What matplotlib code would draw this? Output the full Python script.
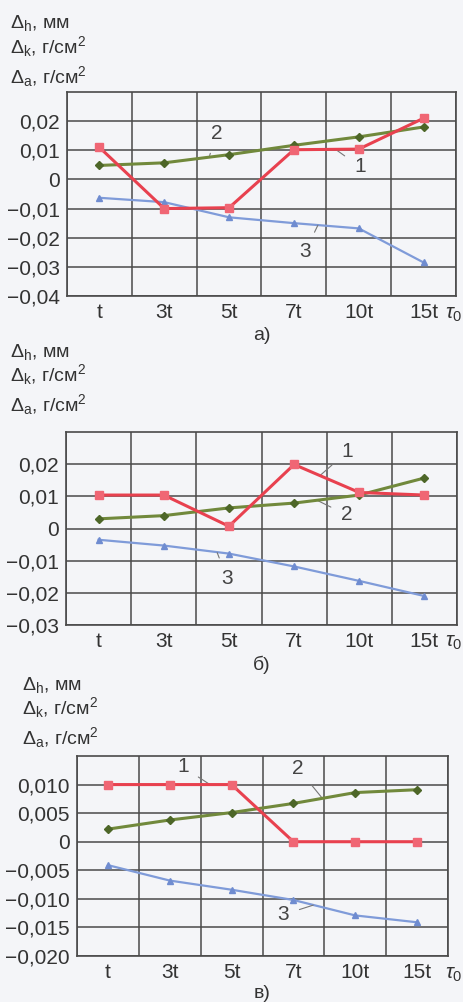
import numpy as np
import matplotlib
matplotlib.use('Agg')
import matplotlib.pyplot as plt
from matplotlib.ticker import FuncFormatter

plt.rcParams['font.family'] = ['Liberation Sans', 'DejaVu Sans']
plt.rcParams['mathtext.fontset'] = 'custom'
plt.rcParams['mathtext.rm'] = 'Liberation Sans'
plt.rcParams['mathtext.it'] = 'Liberation Sans:italic'

x_labels = ['t', '3t', '5t', '7t', '10t', '15t']

# panel a)
a_s1 = [0.011, -0.010, -0.0097, 0.0102, 0.0104, 0.021]
a_s2 = [0.0048, 0.0057, 0.0085, 0.0117, 0.0146, 0.018]
a_s3 = [-0.0063, -0.0078, -0.013, -0.015, -0.0168, -0.0285]
a_yticks = [-0.04, -0.03, -0.02, -0.01, 0, 0.01, 0.02]

# panel б)
b_s1 = [0.0104, 0.0104, 0.0007, 0.0199, 0.0112, 0.0104]
b_s2 = [0.003, 0.004, 0.0064, 0.0079, 0.0104, 0.0157]
b_s3 = [-0.0035, -0.0053, -0.0078, -0.0118, -0.0163, -0.021]
b_yticks = [-0.03, -0.02, -0.01, 0, 0.01, 0.02]

# panel в)
c_s1 = [0.010, 0.010, 0.010, 0.0, 0.0, 0.0]
c_s2 = [0.0022, 0.0038, 0.0051, 0.0067, 0.0086, 0.0091]
c_s3 = [-0.0041, -0.0068, -0.0084, -0.0102, -0.0129, -0.0141]
c_yticks = [-0.020, -0.015, -0.010, -0.005, 0, 0.005, 0.010]

bg = '#f4f5f8'
red = '#e8414f'
green = '#71893c'
blue = '#7f9bd9'
grid_c = '#4a4a4a'

W, H = 463, 1002
fig = plt.figure(figsize=(W / 100, H / 100), dpi=100, facecolor=bg)


def px_axes(l, t, r, b):
    return fig.add_axes([l / W, 1 - b / H, (r - l) / W, (b - t) / H])


def fmt(dec):
    def f(v, pos):
        if abs(v) < 1e-12:
            return '0'
        s = f'{abs(v):.{dec}f}'.replace('.', ',')
        return ('\u2212' if v < 0 else '') + s
    return FuncFormatter(f)


def panel(box, s1, s2, s3, yticks, ylim, dec, notes, letter, letter_y, title_y, title_x, tau_x):
    ax = px_axes(*box)
    ax.set_facecolor(bg)
    xs = np.arange(len(x_labels)) + 0.5
    ax.plot(xs, s3, color=blue, lw=1.6, marker='^', ms=5, mfc='#6f8cd0', mec='#6f8cd0', zorder=3)
    ax.plot(xs, s2, color=green, lw=2.2, marker='D', ms=4, mfc='#4d6628', mec='#4d6628', zorder=4)
    ax.plot(xs, s1, color=red, lw=2.2, marker='s', ms=6, mfc='#f06674', mec='#f06674', zorder=5)
    ax.set_xlim(0, 6)
    ax.set_ylim(*ylim)
    ax.set_xticks(np.arange(0, 7))
    ax.set_xticklabels([])
    ax.set_xticks(xs, minor=True)
    ax.set_xticklabels(x_labels, minor=True)
    ax.set_yticks(yticks)
    ax.yaxis.set_major_formatter(fmt(dec))
    ax.grid(True, which='major', color=grid_c, lw=1.1)
    ax.tick_params(which='both', length=0, labelsize=15, colors='#333333', pad=5)
    for sp in ax.spines.values():
        sp.set_color(grid_c)
        sp.set_linewidth(1.2)
    for lab, (tx, ty), (ex, ey) in notes:
        ax.annotate(lab, xy=(ex, ey), xytext=(tx, ty), fontsize=15, color='#444444',
                    ha='center', va='center',
                    arrowprops=dict(arrowstyle='-', color='#777777', lw=0.8, shrinkA=6, shrinkB=0))
    # tau_0 after the last tick label
    fig.text(tau_x / W, 1 - (box[3] + 18) / H, r'$\tau_0$', fontsize=15, color='#333333',
             ha='right', va='center')
    fig.text(262 / W, 1 - letter_y / H, letter, fontsize=14, color='#333333',
             ha='center', va='center')
    lines = [r'$\Delta_\mathrm{h}$, мм', r'$\Delta_\mathrm{k}$, г/см$^2$', r'$\Delta_\mathrm{a}$, г/см$^2$']
    for s, yy in zip(lines, title_y):
        fig.text(title_x / W, 1 - yy / H, s, fontsize=14, color='#333333', ha='left', va='center')
    return ax


notes_a = [('2', (2.31, 0.0159), (2.2, 0.0082)),
           ('1', (4.52, 0.0043), (4.15, 0.0102)),
           ('3', (3.67, -0.0249), (3.87, -0.0157))]
notes_b = [('1', (4.31, 0.0238), (3.9, 0.0165)),
           ('2', (4.31, 0.0042), (3.85, 0.0088)),
           ('3', (2.47, -0.0154), (2.32, -0.0075))]
notes_c = [('1', (1.71, 0.0131), (2.15, 0.0100)),
           ('2', (3.57, 0.0129), (3.96, 0.0077)),
           ('3', (3.33, -0.0128), (3.82, -0.0111))]

panel((67, 92, 456, 296), a_s1, a_s2, a_s3, a_yticks, (-0.04, 0.03), 2, notes_a,
      'а)', 335, (23, 47, 77), 10, 462)
panel((66, 432, 457, 625), b_s1, b_s2, b_s3, b_yticks, (-0.03, 0.03), 2, notes_b,
      'б)', 665, (352, 375, 405), 10, 462)
panel((77, 756, 448, 956), c_s1, c_s2, c_s3, c_yticks, (-0.020, 0.015), 3, notes_c,
      'в)', 993, (685, 708, 738), 22, 462)

fig.savefig('out.png', dpi=100, facecolor=bg)
